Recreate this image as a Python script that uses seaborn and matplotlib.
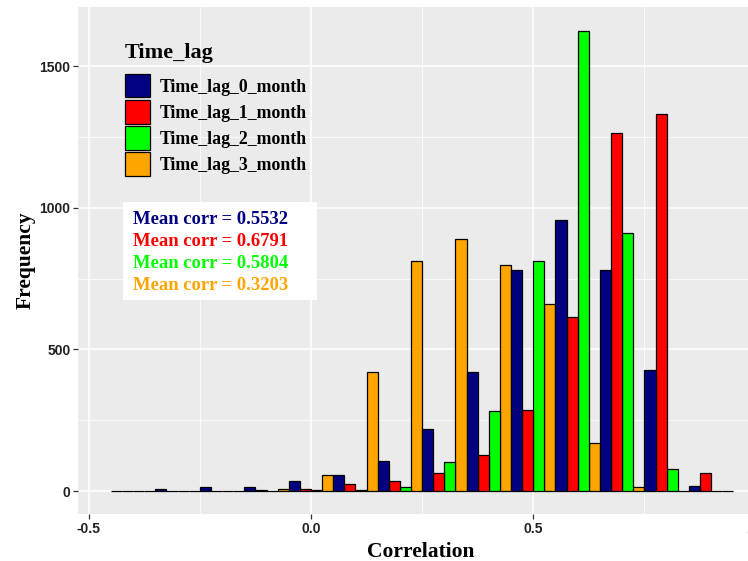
import numpy as np
import pandas as pd
import matplotlib
matplotlib.use("Agg")
import matplotlib.pyplot as plt
from matplotlib.patches import Patch, Rectangle
import seaborn as sns

# ---- data ----
bin_centers = [-0.4, -0.3, -0.2, -0.1, 0.0, 0.1, 0.2, 0.3, 0.4, 0.5, 0.6, 0.7, 0.8, 0.9]
lag0 = [0, 8, 13, 16, 36, 58, 106, 219, 421, 782, 957, 779, 426, 17]
lag1 = [0, 0, 0, 4, 7, 25, 36, 65, 126, 286, 616, 1264, 1330, 62]
lag2 = [0, 0, 0, 0, 2, 3, 15, 101, 283, 813, 1625, 912, 78, 0]
lag3 = [0, 0, 0, 7, 57, 420, 814, 891, 799, 661, 169, 13, 0, 0]
series_names = ["Time_lag_0_month", "Time_lag_1_month", "Time_lag_2_month", "Time_lag_3_month"]
series_colors = ["#000080", "#FF0000", "#00FF00", "#FFA500"]
mean_corr = ["0.5532", "0.6791", "0.5804", "0.3203"]
x_ticks = [-0.5, 0.0, 0.5, 1.0]
x_ticklabels = ["-0.5", "0.0", "0.5", "1.0"]
y_ticks = [0, 500, 1000, 1500]

rows = []
for name, vals in zip(series_names, [lag0, lag1, lag2, lag3]):
    for c, v in zip(bin_centers, vals):
        rows.append({"Correlation": c, "count": v, "Time_lag": name})
df = pd.DataFrame(rows)

bw = 0.1
brange = (bin_centers[0] - bw / 2, bin_centers[-1] + bw / 2)

fig = plt.figure(figsize=(7.48, 5.61), dpi=100)
ax = fig.add_axes([78 / 748, 47 / 561, (764 - 78) / 748, (514 - 7) / 561])
ax.set_facecolor("#EBEBEB")

sns.histplot(data=df, x="Correlation", weights="count", hue="Time_lag",
             hue_order=series_names, palette=series_colors,
             binwidth=bw, binrange=brange,
             multiple="dodge", shrink=1, alpha=1, edgecolor="black",
             linewidth=0.9, legend=False, ax=ax)

ax.set_xlim(-0.524, 1.019)
ax.set_ylim(-81, 1709)

ax.set_xticks(x_ticks)
ax.set_xticklabels(x_ticklabels)
ax.set_xticks([-0.25, 0.25, 0.75], minor=True)
ax.set_yticks(y_ticks)
ax.set_yticks([250, 750, 1250], minor=True)
ax.grid(which="major", color="white", linewidth=1.1)
ax.grid(which="minor", color="white", linewidth=0.55)
ax.set_axisbelow(True)
for s in ax.spines.values():
    s.set_visible(False)
ax.tick_params(which="major", length=3.5, width=0.9, color="#333333",
               labelsize=10, labelcolor="#222222", pad=2)
ax.tick_params(which="minor", length=0)
for lab in ax.get_xticklabels() + ax.get_yticklabels():
    lab.set_fontfamily("Liberation Sans")
    lab.set_fontweight("bold")

ax.set_xlabel("Correlation", fontfamily="Liberation Serif", fontweight="bold",
              fontsize=15.5, labelpad=4.5)
ax.set_ylabel("Frequency", fontfamily="Liberation Serif", fontweight="bold",
              fontsize=15.5, labelpad=2.5)

# legend title drawn separately so the gap to the keys matches
ax.text((125 - 78) / 686, (514 - 53) / 507, "Time_lag", transform=ax.transAxes,
        ha="left", va="center", fontfamily="Liberation Serif", fontweight="bold",
        fontsize=16)
handles = [Patch(facecolor=c, edgecolor="black", linewidth=0.9) for c in series_colors]
leg = ax.legend(handles, series_names, loc="upper left",
                bbox_to_anchor=((125 - 78) / 686, (514 - 74) / 507),
                frameon=False, borderpad=0, borderaxespad=0,
                handlelength=1.4, handleheight=1.65,
                labelspacing=0.15, handletextpad=0.55,
                prop={"family": "Liberation Serif", "weight": "bold", "size": 12.8})

# mean correlation annotation box
x0 = (123 - 78) / 686
x1 = (317 - 78) / 686
yb = (514 - 300) / 507
yt = (514 - 202) / 507
ax.add_patch(Rectangle((x0, yb), x1 - x0, yt - yb, transform=ax.transAxes,
                       facecolor="white", edgecolor="none", zorder=5))
line_y = [220, 242, 264, 286]
for val, col, py in zip(mean_corr, series_colors, line_y):
    ax.text((133 - 78) / 686, (514 - py) / 507, f"Mean corr = {val}",
            transform=ax.transAxes, color=col, va="center", ha="left",
            fontfamily="Liberation Serif", fontweight="bold", fontsize=13.4, zorder=6)

fig.savefig("out.png", dpi=100)
